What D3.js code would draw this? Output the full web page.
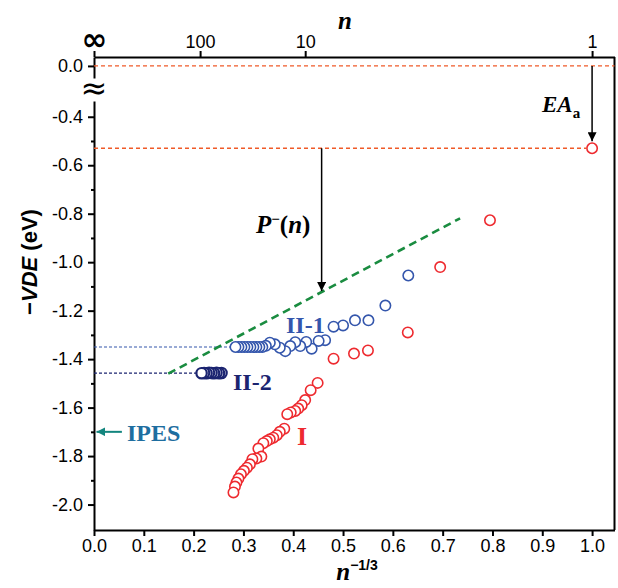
<!DOCTYPE html>
<html>
<head>
<meta charset="utf-8">
<script src="https://cdn.jsdelivr.net/npm/d3@7"></script>
<style>
  body { margin: 0; background: #fff; }
  text { font-family: "Liberation Sans", Arial, sans-serif; }
</style>
</head>
<body>
<script>
// values: x is n^-1/3, y is -VDE in eV
var xI    = [1.0, 0.795, 0.695, 0.63, 0.55, 0.522, 0.481, 0.449, 0.435, 0.424, 0.417, 0.41, 0.404, 0.395, 0.388,
             0.382, 0.373, 0.367, 0.36, 0.353, 0.347, 0.34, 0.33, 0.336, 0.326, 0.318, 0.313, 0.307, 0.301,
             0.295, 0.29, 0.286, 0.283, 0.28];
var vdeI  = [-0.53, -0.827, -1.02, -1.29, -1.364, -1.377, -1.398, -1.498, -1.528, -1.569, -1.59, -1.604, -1.614, -1.62, -1.627,
             -1.687, -1.70, -1.714, -1.724, -1.731, -1.738, -1.747, -1.769, -1.802, -1.81, -1.813, -1.834, -1.848, -1.861,
             -1.875, -1.893, -1.909, -1.926, -1.95];

var xII1   = [0.631, 0.585, 0.551, 0.524, 0.50, 0.481, 0.464, 0.451, 0.437, 0.426, 0.414, 0.404, 0.394, 0.384,
              0.373, 0.363, 0.353, 0.345, 0.338, 0.332, 0.326, 0.32, 0.314, 0.308, 0.302, 0.296, 0.29, 0.284];
var vdeII1 = [-1.055, -1.179, -1.24, -1.24, -1.261, -1.266, -1.322, -1.325, -1.357, -1.329, -1.346, -1.33, -1.346, -1.367,
              -1.353, -1.339, -1.332, -1.345, -1.35, -1.35, -1.35, -1.35, -1.35, -1.35, -1.35, -1.35, -1.35, -1.35];

var xII2   = [0.256, 0.251, 0.246, 0.241, 0.236, 0.231, 0.226, 0.221, 0.216];
var vdeII2 = [-1.457, -1.458, -1.456, -1.458, -1.457, -1.456, -1.458, -1.457, -1.458];

// P-(n) extrapolation line (dashed green)
var pLineX = [0.149, 0.735];
var pLineY = [-1.46, -0.819];

var eaLevel = -0.53, ii1Level = -1.35, ii2Level = -1.458, ipesLevel = -1.70;

var xTickVals  = [0, 0.1, 0.2, 0.3, 0.4, 0.5, 0.6, 0.7, 0.8, 0.9, 1.0];
var yTickVals  = [-0.4, -0.6, -0.8, -1.0, -1.2, -1.4, -1.6, -1.8, -2.0];
var yMinorVals = [-0.5, -0.7, -0.9, -1.1, -1.3, -1.5, -1.7, -1.9];
var topTickPos    = [0, 0.213, 0.424, 1.0];
var topTickLabels = ["\u221E", "100", "10", "1"];

var W = 618, H = 588;
var mLeft = 94, mRight = 614.5, mTop = 57, mBottom = 530;

var svg = d3.select("body").append("svg").attr("width", W).attr("height", H);

var x = d3.scaleLinear().domain([0, 1.045]).range([mLeft, mRight]);
// broken y axis: short piece around 0, long piece below -0.335
var yHigh = d3.scaleLinear().domain([0.037, -0.05]).range([mTop, 78]);
var yLow  = d3.scaleLinear().domain([-0.335, -2.105]).range([101, mBottom]);

var red = "#ee2a2f", blue = "#3456ac", navy = "#1b2470", orange = "#f05a28", green = "#1a8c40";

function styleAxis(g) {
  g.selectAll("path, line").attr("stroke", "#000").attr("stroke-width", 2);
  g.selectAll("text").attr("fill", "#000").style("font-size", "18px")
    .style("font-family", "'Liberation Sans', Arial, sans-serif");
}

// bottom axis
svg.append("g").attr("transform", `translate(0,${mBottom})`)
  .call(d3.axisBottom(x).tickValues(xTickVals).tickSize(6).tickSizeOuter(0).tickFormat(d => d.toFixed(1)))
  .call(styleAxis);

// top axis (n)
var topAx = svg.append("g").attr("transform", `translate(0,${mTop})`)
  .call(d3.axisTop(x).tickValues(topTickPos).tickSize(6).tickSizeOuter(0).tickFormat((d, i) => topTickLabels[i]))
  .call(styleAxis);
topAx.selectAll(".tick text").filter(d => d === 0)
  .style("font-family", "'DejaVu Sans', sans-serif").style("font-weight", "bold").style("font-size", "31px")
  .attr("dy", "0.05em");

// left axis, two pieces
svg.append("g").attr("transform", `translate(${mLeft},0)`)
  .call(d3.axisLeft(yHigh).tickValues([0]).tickSize(6).tickPadding(5).tickSizeOuter(0).tickFormat(d => d.toFixed(1)))
  .call(styleAxis);
svg.append("g").attr("transform", `translate(${mLeft},0)`)
  .call(d3.axisLeft(yLow).tickValues(yTickVals).tickSize(6).tickPadding(5).tickSizeOuter(0).tickFormat(d => d.toFixed(1)))
  .call(styleAxis);
svg.append("g").attr("transform", `translate(${mLeft},0)`)
  .call(d3.axisLeft(yLow).tickValues(yMinorVals).tickSize(3).tickSizeOuter(0).tickFormat(""))
  .call(styleAxis)
  .select(".domain").remove();

// right border
svg.append("line").attr("x1", mRight).attr("x2", mRight).attr("y1", mTop).attr("y2", mBottom)
  .attr("stroke", "#000").attr("stroke-width", 2);

// axis break mark
svg.append("text").attr("x", mLeft).attr("y", 99).attr("text-anchor", "middle")
  .style("font-family", "'DejaVu Sans', sans-serif").style("font-size", "32px")
  .text("\u2248");

// axis titles
svg.append("text").attr("x", 345).attr("y", 29).attr("text-anchor", "middle")
  .style("font-family", "'Liberation Serif', serif").style("font-weight", "bold").style("font-style", "italic")
  .style("font-size", "25px").text("n");

var xt = svg.append("text").attr("x", 357).attr("y", 580).attr("text-anchor", "middle")
  .style("font-weight", "bold");
xt.append("tspan").style("font-family", "'Liberation Serif', serif").style("font-style", "italic")
  .style("font-size", "25px").text("n");
xt.append("tspan").attr("dy", -10).style("font-size", "14px").text("\u22121/3");

var yt = svg.append("text").attr("transform", `translate(37,262) rotate(-90)`).attr("text-anchor", "middle")
  .style("font-weight", "bold").style("font-size", "22px");
yt.append("tspan").text("\u2212");
yt.append("tspan").style("font-style", "italic").text("VDE");
yt.append("tspan").text(" (eV)");

// dashed reference levels
svg.append("line").attr("x1", x(0)).attr("x2", mRight).attr("y1", yHigh(0)).attr("y2", yHigh(0))
  .attr("stroke", orange).attr("stroke-width", 1.3).attr("stroke-dasharray", "4,3");
svg.append("line").attr("x1", x(0)).attr("x2", x(1.0) - 6).attr("y1", yLow(eaLevel)).attr("y2", yLow(eaLevel))
  .attr("stroke", orange).attr("stroke-width", 1.3).attr("stroke-dasharray", "4,3");
svg.append("line").attr("x1", x(0)).attr("x2", x(0.284) - 5).attr("y1", yLow(ii1Level)).attr("y2", yLow(ii1Level))
  .attr("stroke", blue).attr("stroke-width", 1.2).attr("stroke-dasharray", "3,2");
svg.append("line").attr("x1", x(0)).attr("x2", x(0.216) - 5).attr("y1", yLow(ii2Level)).attr("y2", yLow(ii2Level))
  .attr("stroke", navy).attr("stroke-width", 1.2).attr("stroke-dasharray", "3,2");

// P-(n) line
svg.append("path")
  .attr("d", d3.line().x(d => x(d[0])).y(d => yLow(d[1]))(d3.zip(pLineX, pLineY)))
  .attr("fill", "none").attr("stroke", green).attr("stroke-width", 2.6).attr("stroke-dasharray", "8,5");

// arrows
var defs = svg.append("defs");
function marker(id, color) {
  defs.append("marker").attr("id", id).attr("viewBox", "0 0 10 10").attr("refX", 10).attr("refY", 5)
    .attr("markerWidth", 9).attr("markerHeight", 9).attr("markerUnits", "userSpaceOnUse").attr("orient", "auto")
    .append("path").attr("d", "M0,0 L10,5 L0,10 Z").attr("fill", color);
}
marker("arrBlack", "#000");
marker("arrTeal", "#13857e");

svg.append("line").attr("x1", x(1.0)).attr("x2", x(1.0)).attr("y1", yHigh(0)).attr("y2", yLow(eaLevel) - 7)
  .attr("stroke", "#000").attr("stroke-width", 1.5).attr("marker-end", "url(#arrBlack)");

var pArrowX = 0.457;
var pArrowY = pLineY[0] + (pArrowX - pLineX[0]) * (pLineY[1] - pLineY[0]) / (pLineX[1] - pLineX[0]);
svg.append("line").attr("x1", x(pArrowX)).attr("x2", x(pArrowX)).attr("y1", yLow(eaLevel)).attr("y2", yLow(pArrowY) - 1)
  .attr("stroke", "#000").attr("stroke-width", 1.5).attr("marker-end", "url(#arrBlack)");

svg.append("line").attr("x1", x(0.056)).attr("x2", x(0.005)).attr("y1", yLow(ipesLevel)).attr("y2", yLow(ipesLevel))
  .attr("stroke", "#13857e").attr("stroke-width", 2).attr("marker-end", "url(#arrTeal)");

// data circles
function drawSeries(xs, ys, color, sw) {
  svg.append("g").selectAll("circle")
    .data(d3.zip(xs, ys))
    .enter()
    .append("circle")
    .attr("cx", d => x(d[0]))
    .attr("cy", d => yLow(d[1]))
    .attr("r", 5.2)
    .attr("fill", "#fff")
    .attr("stroke", color)
    .attr("stroke-width", sw);
}
drawSeries(xI, vdeI, red, 1.6);
drawSeries(xII1, vdeII1, blue, 1.6);
drawSeries(xII2, vdeII2, navy, 2.2);

// labels
function serifLabel(tx, ty, color, size, str) {
  return svg.append("text").attr("x", tx).attr("y", ty).attr("fill", color)
    .style("font-family", "'Liberation Serif', serif").style("font-weight", "bold").style("font-size", size + "px")
    .text(str);
}
serifLabel(286, 333, blue, 24, "II-1");
serifLabel(233, 390, navy, 24, "II-2");
serifLabel(297, 445, red, 26, "I");
serifLabel(127, 441, "#1e6ea0", 24, "IPES");

var ea = svg.append("text").attr("x", 542).attr("y", 112)
  .style("font-family", "'Liberation Serif', serif").style("font-weight", "bold").style("font-size", "23px");
ea.append("tspan").style("font-style", "italic").text("EA");
ea.append("tspan").attr("dy", 6).style("font-size", "15px").text("a");

var pl = svg.append("text").attr("x", 256).attr("y", 233)
  .style("font-family", "'Liberation Serif', serif").style("font-weight", "bold").style("font-size", "25px");
pl.append("tspan").style("font-style", "italic").text("P");
pl.append("tspan").attr("dy", -9).style("font-size", "15px").text("\u2212");
pl.append("tspan").attr("dy", 9).text("(");
pl.append("tspan").style("font-style", "italic").text("n");
pl.append("tspan").text(")");
</script>
</body>
</html>
